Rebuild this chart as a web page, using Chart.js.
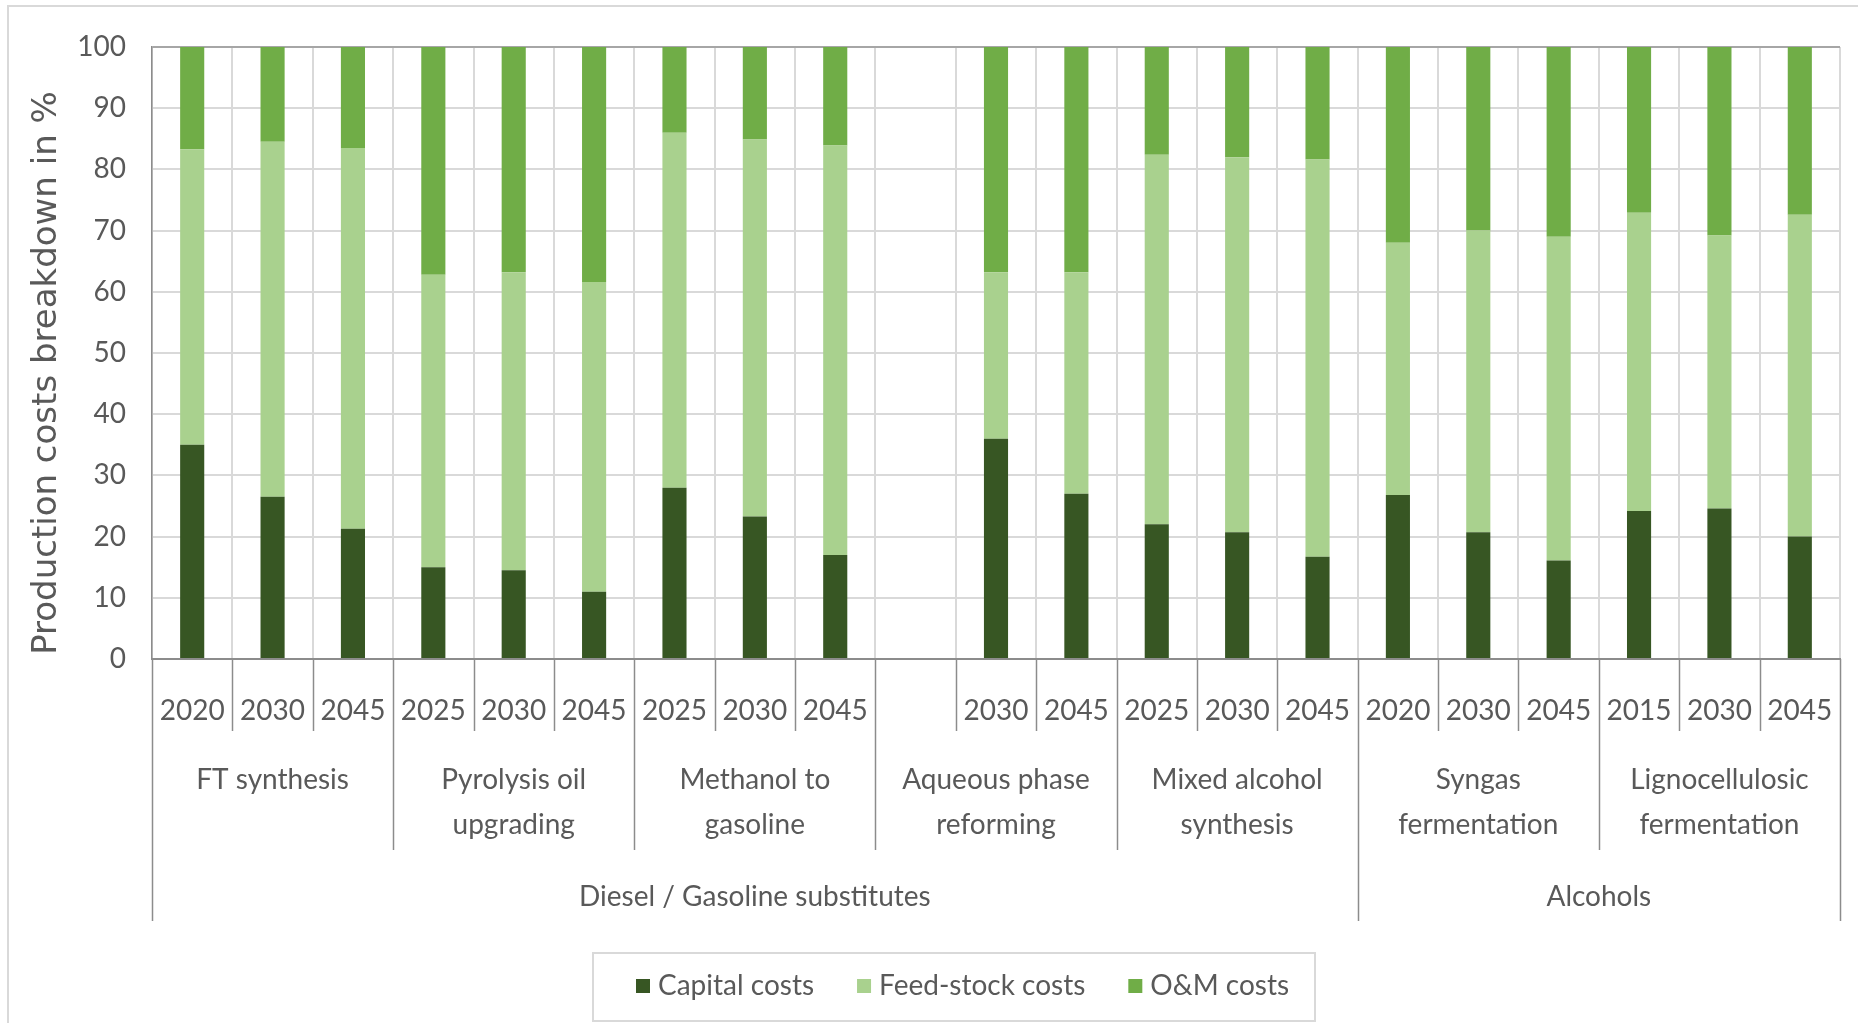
<!DOCTYPE html>
<html>
<head>
<meta charset="utf-8">
<script src="https://cdn.jsdelivr.net/npm/chart.js@4.4.1/dist/chart.umd.min.js"></script>
<style>
  html, body { margin: 0; padding: 0; background: #fff; }
</style>
</head>
<body>
<canvas id="myChart" width="1858" height="1023"></canvas>
<script>
// years under each bar (the empty slot is the missing 2025 of aqueous phase reforming)
let years = ["2020", "2030", "2045", "2025", "2030", "2045", "2025", "2030", "2045",
  "", "2030", "2045", "2025", "2030", "2045", "2020", "2030", "2045", "2015", "2030", "2045"];

let groups = [
  ["FT synthesis"],
  ["Pyrolysis oil", "upgrading"],
  ["Methanol to", "gasoline"],
  ["Aqueous phase", "reforming"],
  ["Mixed alcohol", "synthesis"],
  ["Syngas", "fermentation"],
  ["Lignocellulosic", "fermentation"],
];
let families = ["Diesel / Gasoline substitutes", "Alcohols"];
let familyGroupCount = [5, 2];

let capitalCosts = [35, 26.5, 21.3, 15, 14.5, 11, 28, 23.3, 17, null, 36, 27, 22, 20.7, 16.7, 26.8, 20.7, 16.1, 24.2, 24.6, 20];
let feedstockCosts = [48.3, 58, 62.2, 47.8, 48.7, 50.6, 58, 61.6, 66.9, null, 27.2, 36.2, 60.4, 61.3, 64.9, 41.2, 49.3, 52.9, 48.7, 44.6, 52.6];
let omCosts = [16.7, 15.5, 16.5, 37.2, 36.8, 38.4, 14, 15.1, 16.1, null, 36.8, 36.8, 17.6, 18, 18.4, 32, 30, 31, 27.1, 30.8, 27.4];

let yMin = 0;
let yMax = 100;
let yStep = 10;

const FONT = "Lato, sans-serif";
const FONT_SIZE = 28;
const TEXT = "#595959";
const LINE = "#8c8c8c";

// draws the nested category labels, their separators, the y title and the legend
const decorations = {
  id: "decorations",
  afterDraw(chart) {
    const ctx = chart.ctx;
    const area = chart.chartArea;
    const catW = (area.right - area.left) / years.length;
    const edge = (i) => area.left + i * catW;

    ctx.save();

    // outer chart border
    ctx.strokeStyle = "#d9d9d9";
    ctx.lineWidth = 2;
    ctx.beginPath();
    ctx.moveTo(8, 1023);
    ctx.lineTo(8, 6);
    ctx.lineTo(1858, 6);
    ctx.stroke();

    // separators under the axis
    let familyEdges = [0];
    let acc = 0;
    familyGroupCount.forEach((n) => {
      acc += n * 3;
      familyEdges.push(acc);
    });
    ctx.strokeStyle = LINE;
    ctx.lineWidth = 1.5;
    for (let i = 0; i <= years.length; i++) {
      let depth = 731;
      if (familyEdges.includes(i)) depth = 921;
      else if (i % 3 === 0) depth = 850;
      let x = Math.round(edge(i)) + 0.5;
      ctx.beginPath();
      ctx.moveTo(x, area.bottom);
      ctx.lineTo(x, depth);
      ctx.stroke();
    }

    ctx.fillStyle = TEXT;
    ctx.font = FONT_SIZE + "px " + FONT;
    ctx.textAlign = "center";
    ctx.textBaseline = "middle";

    // group labels
    groups.forEach((lines, g) => {
      let cx = (edge(g * 3) + edge(g * 3 + 3)) / 2;
      lines.forEach((t, k) => ctx.fillText(t, cx, 780 + k * 45));
    });

    // family labels
    for (let f = 0; f < families.length; f++) {
      let cx = (edge(familyEdges[f]) + edge(familyEdges[f + 1])) / 2;
      ctx.fillText(families[f], cx, 897);
    }

    // y axis title
    ctx.save();
    ctx.translate(47, 373);
    ctx.rotate(-Math.PI / 2);
    ctx.font = "34px 'DejaVu Sans', sans-serif";
    ctx.fillText("Production costs breakdown in %", 0, 0);
    ctx.restore();

    // legend
    ctx.strokeStyle = "#d9d9d9";
    ctx.lineWidth = 2;
    ctx.strokeRect(593, 953, 722, 68);
    ctx.textAlign = "left";
    let lx = 636;
    chart.data.datasets.forEach((ds) => {
      ctx.fillStyle = ds.backgroundColor;
      ctx.fillRect(lx, 979, 14, 14);
      ctx.fillStyle = TEXT;
      ctx.fillText(ds.label, lx + 22, 986);
      lx += 22 + ctx.measureText(ds.label).width + 43;
    });

    ctx.restore();
  },
};

const ctx = document.getElementById("myChart").getContext("2d");

const myChart = new Chart(ctx, {
  type: "bar",
  data: {
    labels: years,
    datasets: [
      { label: "Capital costs", data: capitalCosts, backgroundColor: "#375623" },
      { label: "Feed-stock costs", data: feedstockCosts, backgroundColor: "#a9d18e" },
      { label: "O&M costs", data: omCosts, backgroundColor: "#70ad47" },
    ],
  },
  options: {
    responsive: false,
    animation: false,
    devicePixelRatio: 1,
    layout: { padding: { left: 0, right: 18, top: 47, bottom: 0 } },
    datasets: {
      bar: { categoryPercentage: 1, barPercentage: 0.3 },
    },
    plugins: {
      legend: { display: false },
      tooltip: { enabled: false },
    },
    scales: {
      x: {
        stacked: true,
        grid: { color: "#d9d9d9", lineWidth: 2, drawTicks: false, offset: true },
        border: { color: LINE, width: 2 },
        ticks: { color: TEXT, font: { family: FONT, size: FONT_SIZE }, padding: 35, maxRotation: 0, autoSkip: false },
        afterFit(scale) {
          scale.height = 1023 - 659;
          scale.paddingLeft = 0;
          scale.paddingRight = 0;
        },
      },
      y: {
        stacked: true,
        min: yMin,
        max: yMax,
        grid: {
          color: (c) => (c.tick && c.tick.value === yMax ? "#a6a6a6" : "#d9d9d9"),
          lineWidth: 2,
          drawTicks: false,
        },
        border: { color: LINE, width: 1.5 },
        ticks: { stepSize: yStep, color: TEXT, font: { family: FONT, size: FONT_SIZE }, padding: 26 },
        afterFit(scale) {
          scale.width = 152;
          scale.paddingTop = 0;
          scale.paddingBottom = 0;
        },
      },
    },
  },
  plugins: [decorations],
});
</script>
</body>
</html>
